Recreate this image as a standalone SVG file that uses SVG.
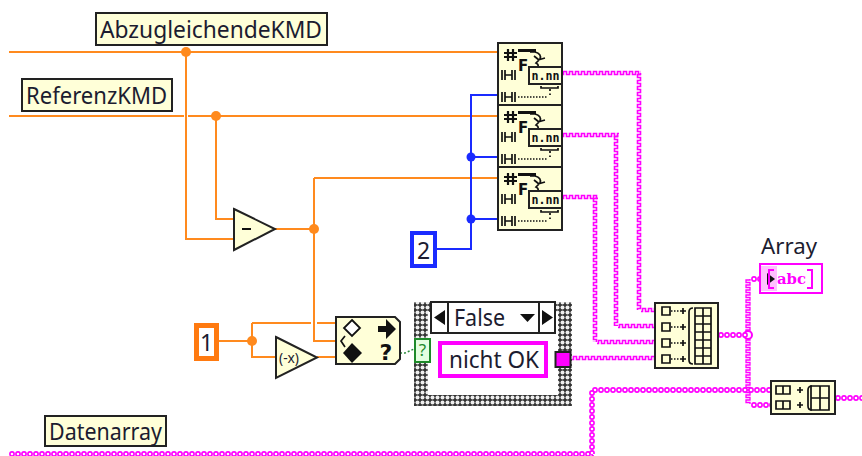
<svg xmlns="http://www.w3.org/2000/svg" xmlns:xlink="http://www.w3.org/1999/xlink" width="862" height="456" viewBox="0 0 862 456">
<style>
text{font-family:"Noto Sans","DejaVu Sans",sans-serif;fill:#1c1c30}
.node{fill:#ffffd8;stroke:#222;stroke-width:2}
.or{fill:none;stroke:#ff8a1e;stroke-width:2}
.bl{fill:none;stroke:#1a2bff;stroke-width:2}
.ojn{fill:#ff8a1e}
.bjn{fill:#1a2bff}
.ic{fill:none;stroke:#111;stroke-width:1.7}
.icf{fill:#111}
.lbl{font-size:23px}
.mono{font-family:"DejaVu Sans Mono","Liberation Mono",monospace;font-weight:700;font-size:12px;fill:#111}
.bold{font-family:"DejaVu Sans",sans-serif;font-weight:700;fill:#111}
</style>
<defs>
<pattern id="wh" width="6" height="6" patternUnits="userSpaceOnUse"><path d="M0 4.500H1.500V1.500H4.500V4.500H6" fill="none" stroke="#f0f" stroke-width="1.600"/></pattern>
<pattern id="wv" width="6" height="6" patternUnits="userSpaceOnUse"><path d="M4.500 0V1.500H1.500V4.500H4.500V6" fill="none" stroke="#f0f" stroke-width="1.600"/></pattern>
<pattern id="wv2" width="6" height="5" patternUnits="userSpaceOnUse"><path d="M5 0V1H1V3.500H5V5" fill="none" stroke="#f0f" stroke-width="1.300"/></pattern>
<pattern id="bh" width="6" height="6" patternUnits="userSpaceOnUse"><circle cx="3" cy="3" r="2.100" fill="#fff" stroke="#f0f" stroke-width="1.600"/></pattern>
<pattern id="chk" width="5" height="5" patternUnits="userSpaceOnUse"><rect width="5" height="5" fill="#333"/><circle cx="2.500" cy="2.500" r="2" fill="#eee"/></pattern>
<g id="scanIcon">
<rect class="node" width="64" height="63"/>
<path class="ic" d="M10 6V18M15 6V18M6 10H19M6 14H19" style="stroke-width:2.200"/>
<rect class="icf" x="20" y="6" width="18" height="3"/>
<text class="bold" x="20" y="28" font-size="15">F</text>
<path class="ic" d="M32 9H37Q44 11 42 16L38 20Q43 23 37 25M36 13L41 17M47 15L40 17"/>
<rect x="31" y="24" width="33" height="17" fill="#ffffd8" stroke="#222" stroke-width="2"/>
<text class="mono" x="33.500" y="37" textLength="28" lengthAdjust="spacingAndGlyphs">n.nn</text>
<path class="ic" d="M4 27V37M7 27V37M14 27V37M17 27V37M7 32H14"/>
<path class="ic" d="M4 49V59M7 49V59M14 49V59M17 49V59M7 54H14"/>
<path class="ic" stroke-dasharray="1.500 1.500" d="M20 54H50M52 52V49"/>
<path class="ic" d="M43 43V45H60V43M52 46V48"/>
</g>
</defs>

<g id="connectors">
<path class="or" d="M9 52H498M9 116H184M188 116H498M186 52V239H234M216 116V219H234M275 229H314M314 178V341H336M314 178H498M219 341H252M252 323V357H276M252 323H311M317 323H336M317 357H336"/>
<circle class="ojn" cx="186" cy="52" r="5"/><circle class="ojn" cx="216" cy="116" r="5"/><circle class="ojn" cx="314" cy="229" r="5"/><circle class="ojn" cx="252" cy="341" r="5"/>
<path class="bl" d="M436 249H471V95H498M471 157H498M471 219H498"/>
<circle class="bjn" cx="471" cy="157" r="4.500"/><circle class="bjn" cx="471" cy="219" r="4.500"/>
<path d="M400 353H405L414 349" fill="none" stroke="#2a8a3a" stroke-width="1.500" stroke-dasharray="2 2"/>
<g fill="url(#wh)">
<rect transform="translate(562,70)" width="79" height="6"/>
<rect transform="translate(562,132)" width="57" height="6"/>
<rect transform="translate(562,194)" width="36" height="6"/>
<rect transform="translate(641,307)" width="14" height="6"/>
<rect transform="translate(618,323)" width="37" height="6"/>
<rect transform="translate(597,339)" width="58" height="6"/>
<rect transform="translate(572,355)" width="83" height="6"/>
</g>
<g fill="url(#wv)">
<rect transform="translate(636,73)" width="6" height="237"/>
<rect transform="translate(613,135)" width="6" height="191"/>
<rect transform="translate(592,197)" width="6" height="145"/>
</g>
<rect transform="translate(745,279)" width="6" height="125" fill="url(#wv2)"/>
<circle cx="748" cy="335" r="4" fill="#fff" stroke="#f0f" stroke-width="2"/>
<g fill="url(#bh)">
<rect transform="translate(718,332)" width="30" height="6"/>
<rect transform="translate(751,276)" width="8" height="6"/>
<rect transform="translate(751,402)" width="20" height="6"/>
<rect transform="translate(592,387)" width="179" height="6"/>
<rect transform="translate(835,395)" width="27" height="6"/>
<rect transform="translate(9,451)" width="585" height="6"/>
<rect transform="translate(589,390)" width="6" height="64"/>
</g>
</g>

<g id="labelAbzug"><rect class="node" x="96" y="13" width="231" height="32"/><text class="lbl" x="100" y="38" textLength="222" lengthAdjust="spacingAndGlyphs">AbzugleichendeKMD</text></g>
<g id="labelReferenz"><rect class="node" x="22" y="79" width="150" height="32"/><text class="lbl" x="26" y="104" textLength="141" lengthAdjust="spacingAndGlyphs">ReferenzKMD</text></g>
<g id="labelDaten"><rect class="node" x="45" y="416" width="121" height="30"/><text class="lbl" x="49" y="440" textLength="113" lengthAdjust="spacingAndGlyphs">Datenarray</text></g>

<g id="scan1"><use href="#scanIcon" x="498" y="43"/></g>
<g id="scan2"><use href="#scanIcon" x="498" y="105"/></g>
<g id="scan3"><use href="#scanIcon" x="498" y="167"/></g>

<g id="subtract"><path d="M234 209L275 229L234 250Z" fill="#ffffd8" stroke="#222" stroke-width="2"/><path d="M242 229H251" stroke="#111" stroke-width="2"/></g>

<g id="const2"><rect x="412" y="233" width="23" height="33" fill="#fff" stroke="#1a2bff" stroke-width="4"/><text x="423.500" y="259" font-size="23" text-anchor="middle">2</text></g>
<g id="const1"><rect x="196.500" y="325.500" width="20" height="33" fill="#fff" stroke="#ff7a10" stroke-width="5"/><text x="206.500" y="351" font-size="23" text-anchor="middle">1</text></g>

<g id="negate"><path d="M276 337L317 357.500L276 378Z" fill="#ffffd8" stroke="#222" stroke-width="2"/><text x="279" y="363" font-size="15" textLength="20" lengthAdjust="spacingAndGlyphs">(-x)</text></g>

<g id="select"><path class="node" d="M336 317H395L400 322V359L395 364H336Z"/>
<path d="M352 320L360 328L352 336L344 328Z" fill="#fff" stroke="#111" stroke-width="1.800"/>
<path class="icf" d="M352 343L362 353L352 363L343 353Z"/>
<path class="ic" d="M345 347L341 341L345 336"/>
<path class="icf" d="M378 326H386V319L396 329L386 339V332H378Z"/>
<text class="bold" x="386" y="360" font-size="22" text-anchor="middle">?</text></g>

<g id="case">
<rect x="414" y="302" width="158" height="104" fill="url(#chk)"/>
<rect x="428" y="312" width="130" height="83" fill="#fff"/>
<rect x="431" y="302" width="124" height="31" fill="#fff" stroke="#222" stroke-width="2"/>
<path d="M448 302V333M539 302V333" stroke="#222" stroke-width="2"/>
<path class="icf" d="M445 310V325L434 317.500ZM542 310V325L553 317.500ZM520 314H535L527.500 322Z"/>
<text x="454" y="326" font-size="23" textLength="51" lengthAdjust="spacingAndGlyphs">False</text>
<rect x="415" y="339" width="15" height="23" fill="#e4ffe0" stroke="#1e8a2a" stroke-width="2"/>
<text x="422.500" y="356" font-size="17" text-anchor="middle" style="fill:#1e8a2a">?</text>
<rect x="440" y="343" width="106" height="33" fill="#fff" stroke="#f0f" stroke-width="4"/>
<text x="449" y="368" font-size="23" textLength="90" lengthAdjust="spacingAndGlyphs">nicht OK</text>
<rect x="555.500" y="352" width="15" height="15" fill="#f0f" stroke="#222" stroke-width="2"/>
</g>

<g id="buildArray4"><rect class="node" x="655" y="303" width="63" height="65"/>
<path class="ic" d="M662 307h8v8h-8zM662 323h8v8h-8zM662 339h8v8h-8zM662 355h8v8h-8z"/>
<path class="ic" stroke-dasharray="1.500 1.500" d="M671 311h8M671 327h8M671 343h8M671 359h8"/>
<path class="ic" d="M680 311h6M683 308v6M680 327h6M683 324v6M680 343h6M683 340v6M680 359h6M683 356v6"/>
<path class="ic" d="M693 308Q689 308 689 312V360Q689 364 693 364"/>
<path class="ic" d="M695 308H711V364H695ZM703 308V364M695 316H711M695 324H711M695 332H711M695 340H711M695 348H711M695 356H711"/>
</g>

<g id="buildArray2"><rect class="node" x="771" y="381" width="64" height="33"/>
<path class="ic" d="M776 386h14v8h-14zM783 386v8M776 401h14v8h-14zM783 401v8"/>
<path class="ic" d="M797 390h6M800 387v6M797 405h6M800 402v6"/>
<path class="ic" d="M812 386Q808 386 808 390V406Q808 410 812 410"/>
<path class="ic" d="M811 386H829V410H811ZM820 386V410M811 398H829"/>
</g>

<g id="arrayIndicator">
<text x="761" y="254" font-size="21" textLength="56" lengthAdjust="spacingAndGlyphs">Array</text>
<rect x="760" y="264" width="62" height="29" fill="#fff" stroke="#f0f" stroke-width="2"/>
<rect x="761" y="266" width="16" height="25" fill="#ffc0ff"/>
<path class="icf" d="M767 273V285L775 279Z"/>
<path d="M774 270H769V288H774M807 270H812V288H807" fill="none" stroke="#f0f" stroke-width="2"/>
<text x="777" y="284" font-size="14" style="font-family:'DejaVu Serif',serif;font-weight:700;fill:#f0f" textLength="29" lengthAdjust="spacingAndGlyphs">abc</text>
</g>
</svg>
